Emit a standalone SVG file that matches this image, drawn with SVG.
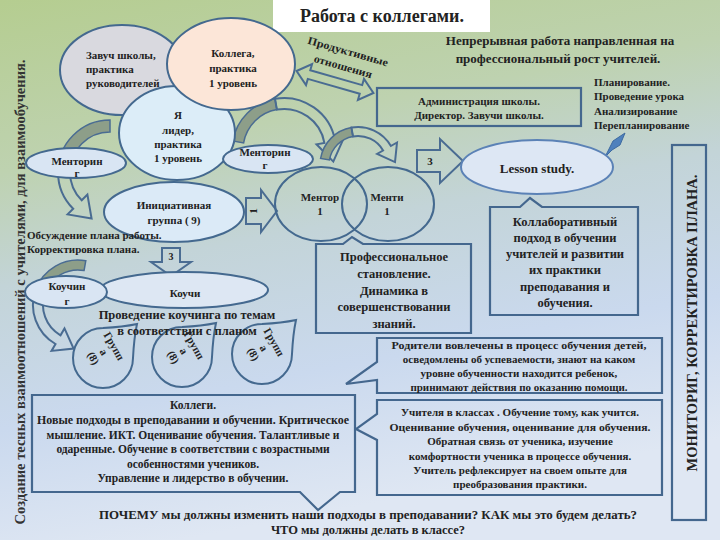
<svg xmlns="http://www.w3.org/2000/svg" width="720" height="540" viewBox="0 0 720 540">
<defs>
<linearGradient id="bg" x1="0" y1="0" x2="0.25" y2="1">
<stop offset="0" stop-color="#b5cd90"/>
<stop offset="0.3" stop-color="#bed2b0"/>
<stop offset="0.5" stop-color="#c3d4d8"/>
<stop offset="0.75" stop-color="#cad9ee"/>
<stop offset="1" stop-color="#dfe7f3"/>
</linearGradient>
<style>
text{font-family:"Liberation Serif","DejaVu Serif",serif;font-weight:bold;fill:#222;font-size:11px}
.c{text-anchor:middle}
.n{stroke:#44698f;stroke-width:2}
.box{fill:none;stroke:#44678e;stroke-width:2.2}
.arr{fill:none;stroke:#4a6c92;stroke-width:2}
.arrg{fill:#8d9e89;stroke:#4a6c92;stroke-width:1.5}
.m{font-size:12.5px}
</style>
</defs>
<rect x="0" y="0" width="720" height="540" fill="url(#bg)"/>

<g id="title">
<rect x="273" y="0" width="217" height="32" fill="#ffffff"/>
<text class="c" x="382" y="22" style="font-size:18px">Работа  с коллегами.</text>
</g>

<g id="side-label">
<text class="c" transform="translate(25,292) rotate(-90)" style="font-size:15px;fill:#333" textLength="465" lengthAdjust="spacingAndGlyphs">Создание тесных взаимоотношений с учителями, для взаимообучения.</text>
</g>

<g id="connectors">
<path class="arrg" d="M110,120 A52,52 0 0 0 58,172 L70,172 A40,40 0 0 1 110,132 Z"/>
<path class="arr" d="M58,172 A52,52 0 0 0 73.2,208.8 L67.6,214.4 L91.6,218.6 L87.4,194.6 L81.7,200.3 A40,40 0 0 1 70,172 Z"/>
<path class="arrg" d="M232.8,141 A52,52 0 0 1 275,98.8 L276.9,109.6 A41,41 0 0 0 243.6,142.9 Z"/>
<path class="arr" d="M275,98.8 A52,52 0 0 1 335.2,141 L343.1,139.6 L333.3,161.6 L316.5,144.3 L324.4,142.9 A41,41 0 0 0 276.9,109.6 Z"/>
<path class="arrg" d="M320.6,158.4 A38,38 0 0 1 351.4,127.6 L353,136.4 A29,29 0 0 0 329.4,160 Z"/>
<path class="arr" d="M351.4,127.6 A38,38 0 0 1 390.9,146 L397,142.5 L395,162.1 L377.1,154 L383.1,150.5 A29,29 0 0 0 353,136.4 Z"/>
<path class="arrg" d="M85.8,260.7 A45,45 0 0 0 35.7,289.6 L45.1,293 A35,35 0 0 1 84.1,270.5 Z"/>
<path class="arr" d="M35.7,289.6 A45,45 0 0 0 55.5,344 L51.5,350.9 L73.6,348.6 L64.5,328.4 L60.5,335.3 A35,35 0 0 1 45.1,293 Z"/>
<polygon class="arr" transform="translate(335,82) rotate(16)" points="-40,0 -27,-11 -27,-4.5 27,-4.5 27,-11 40,0 27,11 27,4.5 -27,4.5 -27,11"/>
<text class="c" transform="translate(347,55) rotate(16)" textLength="83" lengthAdjust="spacingAndGlyphs">Продуктивные</text>
<text class="c" transform="translate(342,70) rotate(16)" textLength="60" lengthAdjust="spacingAndGlyphs">отношения</text>
<polygon class="arr" points="417,150 440,150 440,139 463,161 440,183 440,172 417,172"/>
<text class="c" x="430" y="165">3</text>
<polygon class="arr" points="246,198 261,198 261,190 277,211 261,232 261,224 246,224"/>
<text class="c" transform="translate(257,211) rotate(-90)">1</text>
<polygon class="arr" points="162,248 180,248 180,262 191,262 171,276 151,262 162,262"/>
<text class="c" x="171" y="260" style="font-size:10px">3</text>
</g>

<g id="zavuch">
<ellipse class="n" cx="122" cy="70" rx="62" ry="45" fill="#d9d9df"/>
<text x="86" y="59">Завуч  школы,</text>
<text x="86" y="73">практика</text>
<text x="86" y="87">руководителей</text>
</g>

<g id="ya">
<ellipse class="n" cx="177" cy="133" rx="58" ry="47" fill="#dcedf8"/>
<text class="c" x="178" y="119">Я</text>
<text class="c" x="178" y="134">лидер,</text>
<text class="c" x="178" y="148">практика</text>
<text class="c" x="178" y="162">1 уровень</text>
</g>

<g id="kollega">
<ellipse class="n" cx="231" cy="64" rx="64" ry="46" fill="#fce6d8"/>
<text class="c" x="233" y="57">Коллега,</text>
<text class="c" x="233" y="72">практика</text>
<text class="c" x="233" y="87">1 уровень</text>
</g>

<g id="mentoring-left">
<ellipse class="n" cx="76" cy="163" rx="50" ry="15" fill="#d9e5f3"/>
<text class="c" x="77" y="165">Менторин</text>
<text class="c" x="77" y="177">г</text>
</g>

<g id="mentoring-right">
<ellipse class="n" cx="268" cy="159" rx="45" ry="14" fill="#d9e5f3"/>
<text class="c" x="265" y="156">Менторин</text>
<text class="c" x="265" y="169">г</text>
</g>

<g id="initiative">
<ellipse class="n" cx="174" cy="212" rx="70" ry="30" fill="#dbeaf7"/>
<text class="c" x="174" y="209">Инициативная</text>
<text class="c" x="174" y="224">группа ( 9)</text>
</g>

<g id="discussion">
<text x="27" y="239">Обсуждение плана работы.</text>
<text x="27" y="253">Корректировка  плана.</text>
</g>

<g id="mentor">
<ellipse class="n" cx="321" cy="204" rx="46" ry="37" fill="none"/>
<text class="c" x="320" y="201">Ментор</text>
<text class="c" x="320" y="215">1</text>
</g>

<g id="menti">
<ellipse class="n" cx="388" cy="204" rx="46" ry="37" fill="none"/>
<text class="c" x="387" y="201">Менти</text>
<text class="c" x="387" y="215">1</text>
</g>

<g id="admin">
<rect class="box" x="377" y="88" width="204" height="38"/>
<text class="c" x="479" y="105">Администрация школы.</text>
<text class="c" x="479" y="119">Директор. Завучи школы.</text>
</g>

<g id="continuous">
<text class="c" x="560" y="45" style="font-size:13px">Непрерывная работа направленная на</text>
<text class="c" x="558" y="63" style="font-size:13px">профессиональный рост  учителей.</text>
</g>

<g id="planning">
<text x="594" y="86">Планирование.</text>
<text x="594" y="100">Проведение урока</text>
<text x="594" y="115">Анализирование</text>
<text x="594" y="129">Перепланирование</text>
<polygon points="625,133 620,145 612,150 605,157 609,149 613,141" fill="#4f81bd" stroke="#3d6aa0" stroke-width="1"/>
</g>

<g id="lesson-study">
<ellipse cx="537" cy="167" rx="76" ry="27" fill="#dde7f4" stroke="#5b82b6" stroke-width="2"/>
<text class="c" x="537" y="173" style="font-size:13px">Lesson study.</text>
</g>

<g id="collaborative">
<path class="box" d="M490,207 H520 L530,198 L542,207 H638 V315 H490 Z"/>
<text class="c m" x="565" y="226">Коллаборативный</text>
<text class="c m" x="565" y="242">подход в обучении</text>
<text class="c m" x="565" y="258">учителей и развитии</text>
<text class="c m" x="565" y="274">их практики</text>
<text class="c m" x="565" y="291">преподавания и</text>
<text class="c m" x="565" y="307">обучения.</text>
</g>

<g id="professional">
<path class="box" d="M316,244 H343 L352,237 L363,244 H471 V333 H316 Z"/>
<text class="c m" x="394" y="261">Профессиональное</text>
<text class="c m" x="394" y="278">становление.</text>
<text class="c m" x="394" y="295">Динамика в</text>
<text class="c m" x="394" y="311">совершенствовании</text>
<text class="c m" x="394" y="328">знаний.</text>
</g>

<g id="monitoring">
<rect class="box" x="672" y="145" width="34" height="375"/>
<text class="c" transform="translate(697,323) rotate(-90)" style="font-size:14px" textLength="297" lengthAdjust="spacingAndGlyphs">МОНИТОРИГ, КОРРЕКТИРОВКА  ПЛАНА.</text>
</g>

<g id="kouchi">
<ellipse class="n" cx="184" cy="290" rx="84" ry="18" fill="#dde7f3"/>
<text class="c" x="185" y="297">Коучи</text>
</g>

<g id="kouching">
<ellipse class="n" cx="66" cy="292" rx="41" ry="16" fill="#d9e5f3"/>
<text class="c" x="67" y="290">Коучин</text>
<text class="c" x="67" y="305">г</text>
</g>

<g id="group1">
<path class="n" fill="none" d="M103,328 A30,30 0 1 0 133,358 Q134,338 137,324 Q123,327 103,328 Z"/>
<g transform="translate(104,352) rotate(60)">
<text class="c" x="0" y="-8">Групп</text>
<text class="c" x="0" y="4">а</text>
<text class="c" x="0" y="16">(8)</text>
</g>
</g>
<g id="group2">
<path class="n" fill="none" d="M182,327 A30,30 0 1 0 212,357 Q213,337 216,323 Q202,326 182,327 Z"/>
<g transform="translate(184,351) rotate(60)">
<text class="c" x="0" y="-8">Групп</text>
<text class="c" x="0" y="4">а</text>
<text class="c" x="0" y="16">(8)</text>
</g>
</g>
<g id="group3">
<path class="n" fill="none" d="M262,324 A30,30 0 1 0 292,354 Q293,334 296,320 Q282,323 262,324 Z"/>
<g transform="translate(264,348) rotate(60)">
<text class="c" x="0" y="-8">Групп</text>
<text class="c" x="0" y="4">а</text>
<text class="c" x="0" y="16">(8)</text>
</g>
</g>

<g id="coaching-text">
<text class="c m" x="187" y="319">Проведение коучинга по темам</text>
<text class="c m" x="187" y="335">в соответствии с планом</text>
</g>

<g id="colleagues">
<path class="box" d="M32,395 H355 V492 H340 L318,510 L300,492 H32 Z"/>
<text class="c" x="193" y="409" style="font-size:11.5px">Коллеги.</text>
<text class="c" x="193" y="424" style="font-size:11.5px" textLength="312" lengthAdjust="spacingAndGlyphs">Новые подходы в преподавании и обучении. Критическое</text>
<text class="c" x="193" y="439" style="font-size:11.5px">мышление. ИКТ.  Оценивание обучения. Талантливые и</text>
<text class="c" x="193" y="453" style="font-size:11.5px">одаренные. Обучение в соответствии с возрастными</text>
<text class="c" x="193" y="468" style="font-size:11.5px">особенностями учеников.</text>
<text class="c" x="193" y="482" style="font-size:11.5px">Управление и лидерство в обучении.</text>
</g>

<g id="parents">
<path class="box" d="M377,338 H662 V393 H377 V380 L346,384 L377,362 Z"/>
<text class="c" x="519" y="349" textLength="255" lengthAdjust="spacingAndGlyphs">Родители вовлечены в процесс обучения детей,</text>
<text class="c" x="519" y="363">осведомлены об успеваемости, знают на каком</text>
<text class="c" x="519" y="377">уровне обученности находится ребенок,</text>
<text class="c" x="519" y="391">принимают действия по оказанию помощи.</text>
</g>

<g id="teachers">
<path class="box" d="M377,400 H662 V495 H377 V440 L356,429 L377,414 Z"/>
<text class="c" x="520" y="416">Учителя в классах . Обучение тому, как учится.</text>
<text class="c" x="520" y="431" textLength="261" lengthAdjust="spacingAndGlyphs">Оценивание обучения, оценивание для обучения.</text>
<text class="c" x="520" y="445">Обратная связь  от ученика, изучение</text>
<text class="c" x="520" y="460">комфортности ученика в процессе обучения.</text>
<text class="c" x="520" y="474">Учитель рефлексирует на  своем опыте для</text>
<text class="c" x="520" y="488">преобразования практики.</text>
</g>

<g id="questions">
<text class="c m" x="368" y="519" textLength="538" lengthAdjust="spacingAndGlyphs">ПОЧЕМУ мы должны изменить наши подходы в преподавании? КАК мы это будем делать?</text>
<text class="c m" x="368" y="534">ЧТО мы должны делать в классе?</text>
</g>
</svg>
